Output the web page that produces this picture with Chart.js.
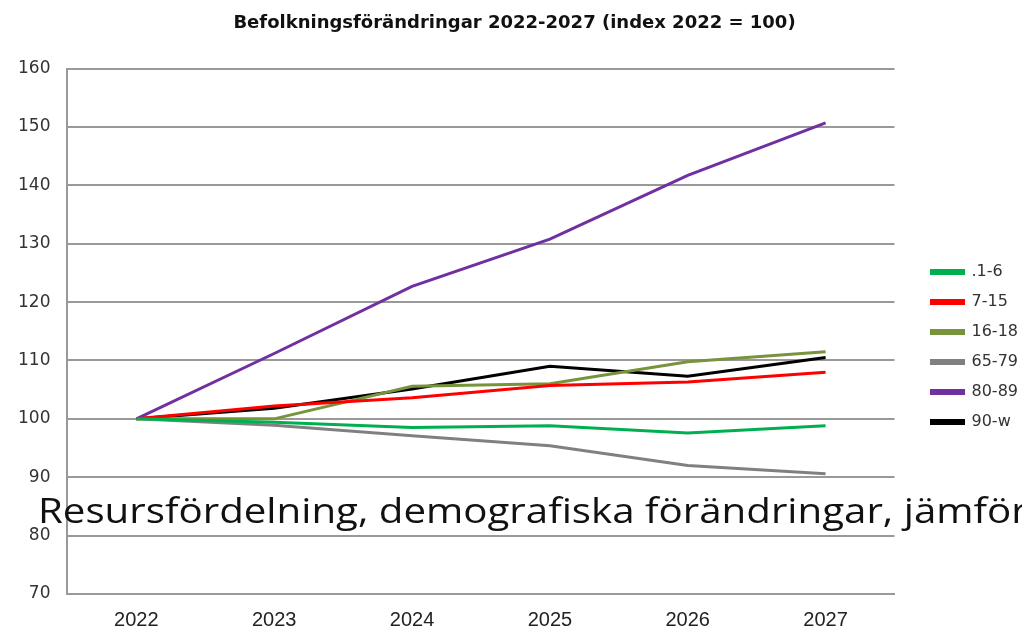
<!DOCTYPE html>
<html>
<head>
<meta charset="utf-8">
<script src="https://cdn.jsdelivr.net/npm/chart.js@4.4.0/dist/chart.umd.min.js"></script>
<style>
  body { margin: 0; background: #fff; }
  #wrap { position: relative; width: 1022px; height: 627px; overflow: hidden; }
  #overlay {
    position: absolute; left: 38px; top: 492px; white-space: nowrap; line-height: 35px;
    font-family: "Open Sans", sans-serif; font-size: 35px; color: #111;
    transform: scaleX(1.15); transform-origin: left top;
  }
</style>
</head>
<body>
<div id="wrap">
  <canvas id="chart" width="1022" height="650"></canvas>
  <div id="overlay">Resursfördelning, demografiska förändringar, jämförelse</div>
</div>
<script>
var years = ["2022", "2023", "2024", "2025", "2026", "2027"];
var seriesNames = [".1-6", "7-15", "16-18", "65-79", "80-89", "90-w"];
var seriesColors = ["#00b050", "#ff0000", "#77933c", "#808080", "#7030a0", "#000000"];

var age1to6 = [100, 99.4, 98.5, 98.8, 97.6, 98.8];
var age7to15 = [100, 102.2, 103.6, 105.7, 106.3, 108.0];
var age16to18 = [100, 100.0, 105.6, 106.0, 109.8, 111.5];
var age65to79 = [100, 98.9, 97.1, 95.4, 92.0, 90.6];
var age80to89 = [100, 111.2, 122.7, 130.8, 141.7, 150.7];
var age90up = [100, 101.8, 105.1, 109.0, 107.3, 110.5];

var allSeries = [age1to6, age7to15, age16to18, age65to79, age80to89, age90up];

var datasets = allSeries.map(function (vals, i) {
  return {
    label: seriesNames[i],
    data: vals,
    borderColor: seriesColors[i],
    backgroundColor: seriesColors[i],
    borderWidth: 3,
    pointRadius: 0,
    tension: 0,
    fill: false
  };
});

var ctx = document.getElementById("chart").getContext("2d");
var chart = new Chart(ctx, {
  type: "line",
  data: { labels: years, datasets: datasets },
  options: {
    responsive: false,
    animation: false,
    layout: { padding: { left: 1, right: -6, top: 0, bottom: 4 } },
    plugins: {
      title: {
        display: true,
        text: "Befolkningsförändringar 2022-2027 (index 2022 = 100)",
        color: "#111",
        font: { family: "DejaVu Sans", size: 18, weight: "bold" },
        padding: { top: 13, bottom: 34 }
      },
      legend: {
        position: "right",
        // empty title only pushes the items down a bit
        title: { display: true, text: " ", font: { size: 10 }, padding: { top: 0, bottom: 36 } },
        labels: {
          boxWidth: 32,
          boxHeight: 3,
          color: "#333",
          font: { family: "DejaVu Sans", size: 16 },
          padding: 14
        }
      },
      tooltip: { enabled: false }
    },
    scales: {
      x: {
        offset: true,
        grid: { display: false, drawTicks: false },
        border: { color: "#999", width: 2 },
        ticks: { color: "#222", font: { family: "Liberation Sans", size: 20 }, padding: 14 }
      },
      y: {
        min: 70,
        max: 160,
        ticks: { stepSize: 10, color: "#333", font: { family: "DejaVu Sans", size: 17 }, padding: 17 },
        grid: { color: "#999", lineWidth: 2, drawTicks: false },
        border: { color: "#999", width: 2 }
      },
      // blank right axis, just leaves a gap before the legend
      gap: {
        position: "right",
        grid: { display: false, drawTicks: false },
        border: { display: false },
        ticks: { display: false },
        afterFit: function (scale) { scale.width = 23; }
      }
    }
  }
});
</script>
</body>
</html>
